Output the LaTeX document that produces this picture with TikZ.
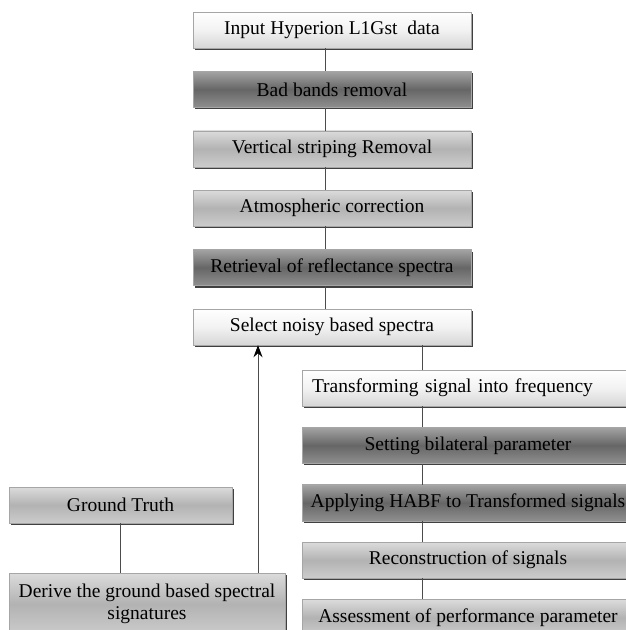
\documentclass[tikz,border=0pt]{standalone}
\usepackage{fontspec}
\setmainfont{Liberation Serif}
\usetikzlibrary{arrows.meta, positioning, shadows}

\begin{document}
\begin{tikzpicture}[x=1pt,y=1pt,node distance=23pt,>={Stealth[length=12pt,width=9pt,color=black]},
      box/.style={draw=black!35,line width=0.4pt,minimum height=36pt,inner sep=2pt,
        font=\fontsize{19.5}{22}\selectfont,
        drop shadow={shadow xshift=1.8pt,shadow yshift=-2pt,opacity=1,fill=black!75}},
      lightbox/.style={box,top color=white,bottom color=black!16,middle color=black!5},
      midbox/.style={box,top color=black!14,bottom color=black!20,middle color=black!30},
      darkbox/.style={box,top color=black!36,bottom color=black!44,middle color=black!60},
      link/.style={draw=black!70,line width=0.8pt}]
      \useasboundingbox (0,0) rectangle (626,-630);
      \coordinate (spine) at (325,0);
      \coordinate (rspine) at (422,0);
      \coordinate (up) at (258,0);
      % main column
      \node[lightbox, minimum width=278pt] (input) at (332,-30) {Input Hyperion L1Gst~ data};
      \node[darkbox, minimum width=278pt, below=of input] (bad) {Bad bands removal};
      \node[midbox, minimum width=278pt, below=of bad] (strip) {Vertical striping Removal};
      \node[midbox, minimum width=278pt, below=of strip] (atmos) {Atmospheric correction};
      \node[darkbox, minimum width=278pt, below=of atmos] (refl) {Retrieval of reflectance spectra};
      \node[lightbox, minimum width=278pt, below=of refl] (select) {Select noisy based spectra};
      % right column
      \node[lightbox, text width=312pt, inner xsep=10pt, align=left] (trans) at (468,-388) {Transforming signal into frequency};
      \node[darkbox, minimum width=332pt, below=21pt of trans] (bilat) {Setting bilateral parameter};
      \node[darkbox, minimum width=332pt, below=21pt of bilat] (habf) {Applying HABF to Transformed signals};
      \node[midbox, minimum width=332pt, below=21pt of habf] (recon) {Reconstruction of signals};
      \node[midbox, minimum width=332pt, below=21pt of recon] (assess) {Assessment of performance parameter};
      % ground truth
      \node[midbox, minimum width=223pt] (truth) at (120.5,-505) {Ground Truth};
      \node[midbox, minimum width=276pt, minimum height=62pt, align=center] (derive) at (147,-604)
        {Derive the ground based spectral\\signatures};

      \foreach \a/\b in {input/bad, bad/strip, strip/atmos, atmos/refl, refl/select}
        \draw[link] (\a.south -| spine) -- (\b.north -| spine);
      \foreach \a/\b in {select/trans, trans/bilat, bilat/habf, habf/recon, recon/assess}
        \draw[link] (\a.south -| rspine) -- (\b.north -| rspine);
      \draw[link] (truth.south) -- (derive.north -| truth.south);
      \draw[link,->] (derive.north -| up) -- (select.south -| up);
    \end{tikzpicture}
\end{document}
